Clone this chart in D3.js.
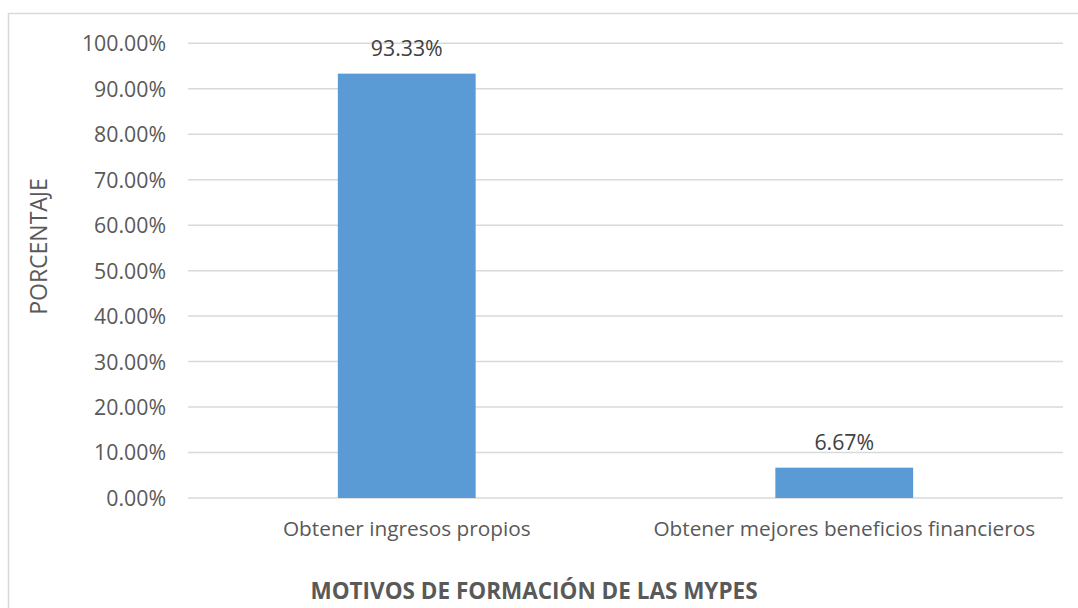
<!DOCTYPE html>
<html><head><meta charset="utf-8">
<script src="https://cdn.jsdelivr.net/npm/d3@7"></script>
<style>body{margin:0;background:#fff}svg{display:block}</style>
</head><body>
<svg id="c" width="1078" height="608"></svg>
<script>
const categories = ["Obtener ingresos propios", "Obtener mejores beneficios financieros"];
const values = [0.9333, 0.0667];
const valueLabels = ["93.33%", "6.67%"];
const yTicks = [0, 0.1, 0.2, 0.3, 0.4, 0.5, 0.6, 0.7, 0.8, 0.9, 1.0];
const yTitle = "PORCENTAJE";
const xTitle = "MOTIVOS DE FORMACIÓN DE LAS MYPES";

const svg = d3.select("#c");
const font = "'Open Sans', sans-serif";
const txt = "#595959";

// chart border
svg.append("rect").attr("x", 8.5).attr("y", 13.5).attr("width", 1080).attr("height", 620)
  .attr("fill", "none").attr("stroke", "#d9d9d9").attr("stroke-width", 1.5);

const L = 188, R = 1063, T = 43.3, B = 498;
const x = d3.scaleBand().domain(categories).range([L, R]).paddingInner(0.685).paddingOuter(0.3425);
const y = d3.scaleLinear().domain([0, 1]).range([B, T]);

// gridlines
svg.append("g").selectAll("line").data(yTicks).join("line")
  .attr("x1", L).attr("x2", R)
  .attr("y1", d => y(d)).attr("y2", d => y(d))
  .attr("stroke", "#d9d9d9").attr("stroke-width", 1.5);

// y axis labels
const yAxis = d3.axisLeft(y).tickValues(yTicks).tickSize(0).tickPadding(0)
  .tickFormat(d => d3.format(".2%")(d));
const ya = svg.append("g").attr("transform", `translate(${L - 22},0)`).call(yAxis);
ya.select(".domain").remove();
ya.selectAll("text").attr("font-family", font).attr("font-size", 21.3).attr("fill", txt).attr("dy", "0.35em");

// bars
svg.append("g").selectAll("rect").data(values).join("rect")
  .attr("x", (d, i) => x(categories[i]))
  .attr("width", x.bandwidth())
  .attr("y", d => y(d))
  .attr("height", d => B - y(d))
  .attr("fill", "#5b9bd5");

// data labels
svg.append("g").selectAll("text").data(values).join("text")
  .attr("x", (d, i) => x(categories[i]) + x.bandwidth() / 2)
  .attr("y", d => y(d) - 18)
  .attr("text-anchor", "middle")
  .attr("font-family", font).attr("font-size", 21.3).attr("fill", "#404040")
  .text((d, i) => valueLabels[i]);

// x axis category labels
const xAxis = d3.axisBottom(x).tickSize(0).tickPadding(0);
const xa = svg.append("g").attr("transform", `translate(0,${B})`).call(xAxis);
xa.select(".domain").remove();
xa.selectAll("text").attr("font-family", font).attr("font-size", 20.8).attr("fill", txt)
  .attr("dy", null).attr("y", 38);

// axis titles
svg.append("text").attr("transform", "translate(46.5,246.5) rotate(-90)")
  .attr("text-anchor", "middle").attr("font-family", font).attr("font-size", 23).attr("fill", txt)
  .text(yTitle);
svg.append("text").attr("x", 534).attr("y", 599).attr("text-anchor", "middle")
  .attr("font-family", font).attr("font-size", 22.5).attr("font-weight", "bold").attr("fill", txt)
  .text(xTitle);
</script>
</body></html>
